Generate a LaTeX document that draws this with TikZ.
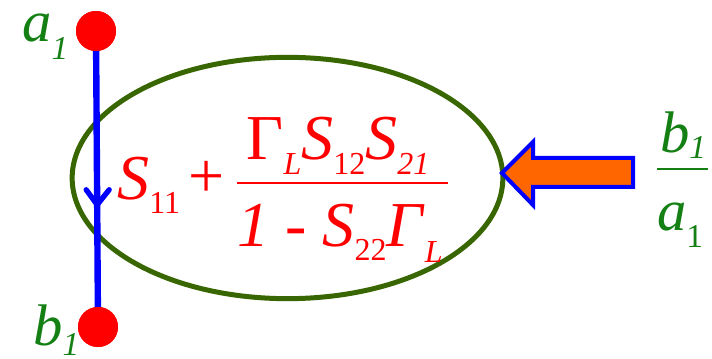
\documentclass[tikz,border=0pt]{standalone}
\usepackage{fontspec}
\setmainfont{Liberation Serif}
\usetikzlibrary{shapes.geometric}
\definecolor{olive}{RGB}{56,102,0}
\definecolor{lblgreen}{RGB}{20,128,20}
\definecolor{arrorange}{RGB}{255,102,0}
\newcommand\dn[2]{\raisebox{-#1pt}{\fontsize{24}{24}\selectfont #2}}
\newcommand\ldn[2]{\raisebox{-#1pt}{\fontsize{25}{25}\selectfont #2}}
\begin{document}
\begin{tikzpicture}[x=0.75pt,y=-0.75pt,
  dot/.style={circle,fill=red,draw=none,minimum size=30pt,inner sep=0pt},
  lbl/.style={inner sep=0pt,text=lblgreen,font=\fontsize{44}{44}\selectfont\itshape},
  frm/.style={inner sep=0pt,text=red,font=\fontsize{48}{48}\selectfont}]
\useasboundingbox (0,0) rectangle (712,359);
% ellipse
\node[ellipse,draw=olive,line width=3.75pt,minimum width=323pt,minimum height=181pt,inner sep=0pt] (ell) at (287.5,178) {};
% blue line with dots
\node[dot] (adot) at (96,31) {};
\node[dot] (bdot) at (98,327) {};
\draw[blue,line width=4.8pt] (adot.center) -- (bdot.center) coordinate[pos=0.587] (tipc);
\node[dot] at (adot) {};
\node[dot] at (bdot) {};
\draw[blue,line width=4pt,line cap=round,line join=round] ([shift={(-11,-15)}]tipc) -- (tipc) -- ([shift={(12,-15)}]tipc);
% labels
\node[lbl,anchor=base west,text height=22pt] (alab) at (22,42) {a\ldn{13}{1}};
\node[lbl,anchor=base west,text depth=7pt] (blab) at (33,345) {b\ldn{8}{1}};
% formula
\node[frm,anchor=base west] (s11) at (117,200) {\textit{S}\dn{10}{11}};
\node[frm,anchor=base] (plus) at (207,198) {+};
\node[frm,anchor=base] (num) at (338,160) {Γ\dn{11}{\textit{L}}\textit{S}\dn{11}{12}\textit{S}\dn{11}{\textit{21}}};
\node[frm,anchor=base] (den) at (340,247) {\textit{1} - \textit{S}\dn{10}{22}\textit{Γ}\dn{12}{\textit{L}}};
\coordinate (barl) at (237,183);
\coordinate (barr) at (448,183);
\draw[red,line width=2pt] (barl) -- (barr);
% orange arrow
\draw[blue,line width=3pt,fill=arrorange,line join=miter]
  (502,173) -- (533,142) -- (533,158) -- (633,158) -- (633,187) -- (533,187) -- (533,205) -- cycle;
% right fraction
\node[lbl,anchor=base] (fb) at (683,153) {b\ldn{4}{1}};
\node[lbl,anchor=base] (fa) at (680,230) {a\ldn{13}{\upshape 1}};
\coordinate (fbl) at (657,169);
\coordinate (fbr) at (708,169);
\draw[lblgreen,line width=1.8pt] (fbl) -- (fbr);
\end{tikzpicture}
\end{document}
